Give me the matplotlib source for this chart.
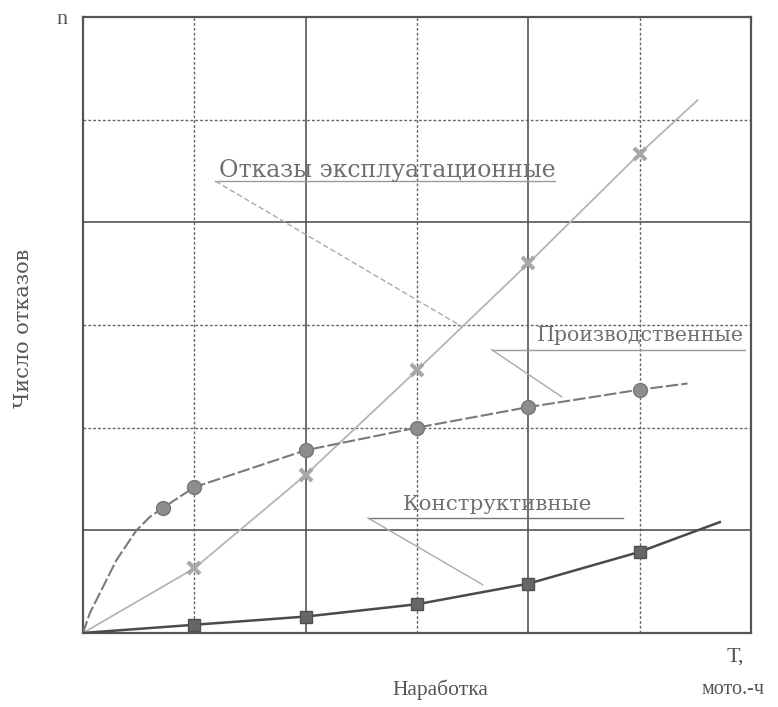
"""Failure count vs operating time: three failure types."""
import matplotlib
matplotlib.use("Agg")
import matplotlib.pyplot as plt

# values (grid units, 6 x 6 cells)
expl_x = [0, 1, 2, 3, 4, 5, 5.52]
expl_y = [0, 0.63, 1.54, 2.56, 3.60, 4.67, 5.19]
expl_mx = [1, 2, 3, 4, 5]
expl_my = [0.63, 1.54, 2.56, 3.60, 4.67]

prod_x = [0, 0.06, 0.18, 0.30, 0.48, 0.60, 0.72, 1, 2, 3, 4, 5, 5.43]
prod_y = [0, 0.19, 0.45, 0.71, 1.00, 1.13, 1.22, 1.42, 1.78, 2.00, 2.20, 2.37, 2.43]
prod_mx = [0.72, 1, 2, 3, 4, 5]
prod_my = [1.22, 1.42, 1.78, 2.00, 2.20, 2.37]

constr_x = [0, 1, 2, 3, 4, 5, 5.72]
constr_y = [0, 0.08, 0.16, 0.28, 0.48, 0.79, 1.08]
constr_mx = [1, 2, 3, 4, 5]
constr_my = [0.08, 0.16, 0.28, 0.48, 0.79]

labels = ["Отказы эксплуатационные", "Производственные", "Конструктивные"]

plt.rcParams["font.family"] = ["DejaVu Serif"]

fig = plt.figure(figsize=(7.78, 7.07), dpi=100)
ax = fig.add_axes([0.1067, 0.1047, 0.8586, 0.8713])
ax.set_xlim(0, 6)
ax.set_ylim(0, 6)
ax.set_xticks([])
ax.set_yticks([])
for sp in ax.spines.values():
    sp.set_color("#555555")
    sp.set_linewidth(1.6)

# grid: solid and dotted lines alternate as in the scan
for gx in [1, 3, 5]:
    ax.axvline(gx, color="#666666", lw=1.0, ls=(0, (2, 1.5)), zorder=1)
for gx in [2, 4]:
    ax.axvline(gx, color="#555555", lw=1.2, zorder=1)
for gy in [2, 3, 5]:
    ax.axhline(gy, color="#666666", lw=1.0, ls=(0, (2, 1.5)), zorder=1)
for gy in [1, 4]:
    ax.axhline(gy, color="#555555", lw=1.2, zorder=1)

# curves
ax.plot(expl_x, expl_y, color="#b5b5b5", lw=1.3, zorder=3)
ax.plot(expl_mx, expl_my, ls="none", marker="x", ms=9, mew=3,
        color="#a8a8a8", zorder=4)

ax.plot(prod_x, prod_y, color="#7a7a7a", lw=1.5, ls=(0, (6, 1.5)), zorder=3)
ax.plot(prod_mx, prod_my, ls="none", marker="o", ms=10,
        mfc="#8d8d8d", mec="#777777", mew=1, zorder=4)

ax.plot(constr_x, constr_y, color="#4a4a4a", lw=1.8, zorder=3)
ax.plot(constr_mx, constr_my, ls="none", marker="s", ms=9,
        mfc="#666666", mec="#505050", mew=1, zorder=4)

# callout labels: text, underline and leader to the curve
lab_col = "#6f6f6f"
ax.text(1.22, 4.44, labels[0], fontsize=17, color=lab_col, ha="left", va="baseline")
ax.plot([1.19, 4.24], [4.40, 4.40], color="#9a9a9a", lw=1.0)
ax.plot([1.19, 3.41], [4.40, 2.98], color="#aaaaaa", lw=1.0, ls=(0, (4, 2)))

ax.text(4.08, 2.84, labels[1], fontsize=14.8, color=lab_col, ha="left", va="baseline")
ax.plot([3.67, 5.95], [2.76, 2.76], color="#9a9a9a", lw=1.0)
ax.plot([3.67, 4.30], [2.76, 2.30], color="#aaaaaa", lw=1.0)

ax.text(2.87, 1.20, labels[2], fontsize=15.4, color=lab_col, ha="left", va="baseline")
ax.plot([2.56, 4.85], [1.12, 1.12], color="#777777", lw=1.0)
ax.plot([2.56, 3.59], [1.12, 0.47], color="#aaaaaa", lw=1.0)

# axis texts
txt_col = "#555555"
times = ["Liberation Serif", "DejaVu Serif"]
fig.text(62 / 778, 1 - 19 / 707, "n", fontsize=16, color=txt_col, family=times,
         ha="center", va="center")
fig.text(24 / 778, 1 - 328 / 707, "Число отказов", fontsize=15, color=txt_col,
         rotation=90, ha="center", va="center")
fig.text(440 / 778, 1 - 690 / 707, "Наработка", fontsize=15.5, color=txt_col,
         family=times, ha="center", va="center")
fig.text(735 / 778, 1 - 657 / 707, "T,", fontsize=16, color=txt_col, family=times,
         ha="center", va="center")
fig.text(733 / 778, 1 - 690 / 707, "мото.-ч", fontsize=14.5, color=txt_col,
         family=times, ha="center", va="center")

fig.savefig("out.png", dpi=100)
